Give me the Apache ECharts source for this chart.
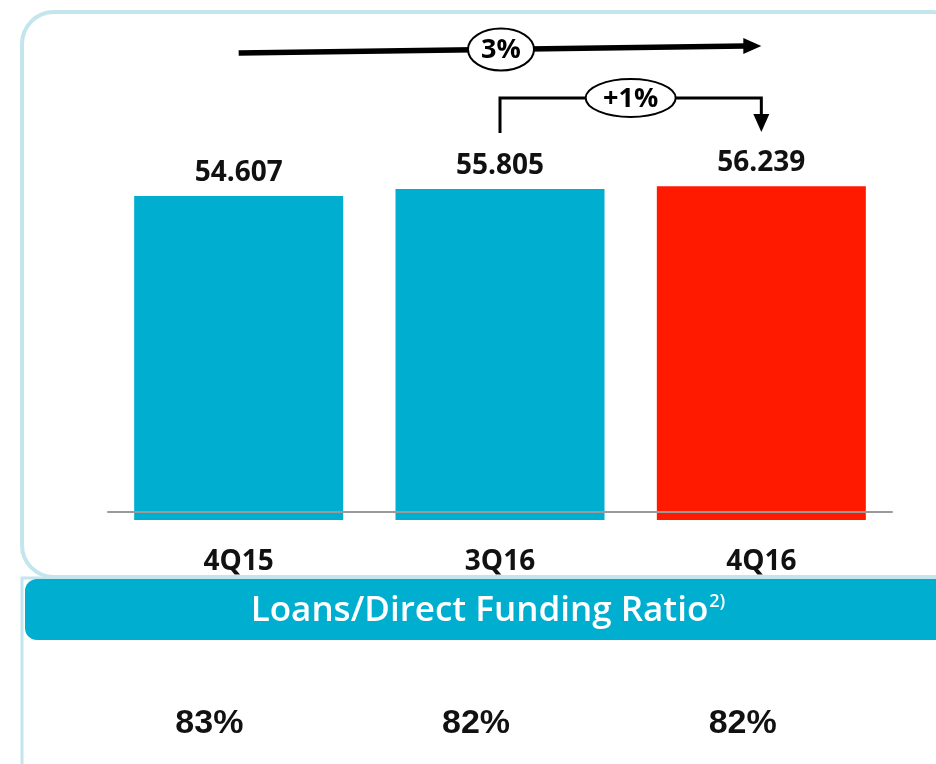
<!DOCTYPE html>
<html>
<head>
<meta charset="utf-8">
<script src="https://cdn.jsdelivr.net/npm/echarts@6/dist/echarts.min.js"></script>
<style>
  html, body { margin: 0; padding: 0; background: #fff; }
  #chart { width: 936px; height: 764px; }
</style>
</head>
<body>
<div id="chart"></div>
<script>
// ---- data ----
const categories = ['4Q15', '3Q16', '4Q16'];
const loans = [54.607, 55.805, 56.239];
const barColors = ['#00AECF', '#00AECF', '#FF1A00'];
const ratios = ['83%', '82%', '82%'];
const growthLabels = ['3%', '+1%'];
const bannerTitle = 'Loans/Direct Funding Ratio';
const bannerNote = '2)';

const chart = echarts.init(document.getElementById('chart'), null, { renderer: 'canvas' });

const BORDER = '#C3E5EE';
const TEAL = '#00AFD0';

const baseGraphic = [
  { id: 'box', type: 'rect', z: -10,
    shape: { x: 22, y: 12, width: 942, height: 565, r: 32 },
    style: { fill: 'none', stroke: BORDER, lineWidth: 4 } },
  { id: 'frame2', type: 'rect', z: -10,
    shape: { x: 22, y: 578, width: 1000, height: 300, r: 0 },
    style: { fill: 'none', stroke: BORDER, lineWidth: 3 } },
  { id: 'banner', type: 'rect', z: -5,
    shape: { x: 25, y: 579, width: 960, height: 61, r: [12, 0, 0, 12] },
    style: { fill: TEAL } },
  { id: 'bannerText', type: 'text', z: 5,
    x: 488, y: 611,
    style: {
      text: '{a|' + bannerTitle + '}{s|' + bannerNote + '}',
      align: 'center', verticalAlign: 'middle',
      rich: {
        a: { fontFamily: 'Open Sans', fontWeight: 600, fontSize: 35, fill: '#fff' },
        s: { fontFamily: 'Open Sans', fontWeight: 600, fontSize: 18, fill: '#fff', padding: [0, 0, 18, 1] }
      }
    } }
];

chart.setOption({
  animation: false,
  backgroundColor: '#fff',
  grid: [
    { left: 108, right: 44, top: 164, bottom: 244 },
    { left: 76, right: 60, top: 691, height: 10 }
  ],
  xAxis: [
    { type: 'category', gridIndex: 0, data: categories, offset: -8, z: 5,
      axisLine: { show: true, lineStyle: { color: '#9A9A9A', width: 2 } },
      axisTick: { show: false },
      axisLabel: { margin: 36, fontFamily: 'Open Sans', fontWeight: 'bold', fontSize: 28, color: '#111' } },
    { type: 'category', gridIndex: 1, data: ratios,
      axisLine: { show: false }, axisTick: { show: false },
      axisLabel: { margin: 6, fontFamily: 'Liberation Sans', fontWeight: 'bold', fontSize: 34, color: '#111' } }
  ],
  yAxis: [
    { type: 'value', gridIndex: 0, min: 0, max: 60, show: false },
    { type: 'value', gridIndex: 1, min: 0, max: 1, show: false }
  ],
  series: [
    { type: 'bar', xAxisIndex: 0, yAxisIndex: 0, barWidth: 209,
      data: loans.map((v, i) => ({ value: v, itemStyle: { color: barColors[i] } })),
      label: { show: true, position: 'top', distance: 9,
        fontFamily: 'Open Sans', fontWeight: 'bold', fontSize: 28, color: '#111',
        formatter: p => p.value.toFixed(3) } }
  ],
  graphic: baseGraphic
});

// annotation arrows anchored to the bar centres
const px = i => chart.convertToPixel({ gridIndex: 0 }, [i, 0])[0];
const x0 = px(0), x1 = px(1), x2 = px(2);

const topY0 = 53, topY1 = 46;
const headLen = 18;
const bracketY = 98;
const arrows = [
  { id: 'a1line', type: 'polyline', z: 10,
    shape: { points: [[x0, topY0], [x2 - headLen + 2, topY1]] },
    style: { stroke: '#000', lineWidth: 5.5, fill: 'none' } },
  { id: 'a1head', type: 'polygon', z: 10,
    shape: { points: [[x2 - headLen, topY1 - 8], [x2, topY1], [x2 - headLen, topY1 + 8]] },
    style: { fill: '#000' } },
  { id: 'a1ell', type: 'ellipse', z: 11,
    shape: { cx: x1 + 1, cy: (topY0 + topY1) / 2, rx: 33, ry: 21 },
    style: { fill: '#fff', stroke: '#000', lineWidth: 2 } },
  { id: 'a1txt', type: 'text', z: 12,
    x: x1 + 1, y: (topY0 + topY1) / 2 + 1,
    style: { text: growthLabels[0], align: 'center', verticalAlign: 'middle',
      fontFamily: 'Open Sans', fontWeight: 'bold', fontSize: 27, fill: '#000' } },
  { id: 'a2line', type: 'polyline', z: 10,
    shape: { points: [[x1, 133], [x1, bracketY], [x2, bracketY], [x2, 116]] },
    style: { stroke: '#000', lineWidth: 3, fill: 'none' } },
  { id: 'a2head', type: 'polygon', z: 10,
    shape: { points: [[x2 - 8, 114], [x2 + 8, 114], [x2, 132]] },
    style: { fill: '#000' } },
  { id: 'a2ell', type: 'ellipse', z: 11,
    shape: { cx: (x1 + x2) / 2, cy: bracketY, rx: 45, ry: 19 },
    style: { fill: '#fff', stroke: '#000', lineWidth: 2 } },
  { id: 'a2txt', type: 'text', z: 12,
    x: (x1 + x2) / 2, y: bracketY + 1,
    style: { text: growthLabels[1], align: 'center', verticalAlign: 'middle',
      fontFamily: 'Open Sans', fontWeight: 'bold', fontSize: 27, fill: '#000' } }
];

chart.setOption({ graphic: baseGraphic.concat(arrows) });
</script>
</body>
</html>
